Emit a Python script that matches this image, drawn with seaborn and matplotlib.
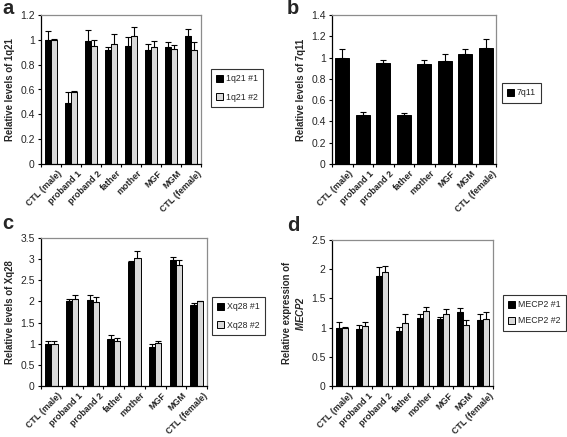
import numpy as np
import pandas as pd
import seaborn as sns
import matplotlib.pyplot as plt
import matplotlib.transforms as mtransforms
from matplotlib.ticker import MultipleLocator, FixedLocator

sns.set_style("white")
plt.rcParams['font.family'] = ['Liberation Sans', 'DejaVu Sans']
plt.rcParams['mathtext.fontset'] = 'custom'
plt.rcParams['mathtext.bfit'] = 'Liberation Sans:italic:bold'
plt.rcParams['mathtext.it'] = 'Liberation Sans:italic'

samples = ["CTL (male)", "proband 1", "proband 2", "father", "mother", "MGF", "MGM", "CTL (female)"]

# panel a - 1q21
q21_1 = [1.00, 0.49, 0.99, 0.92, 0.95, 0.92, 0.94, 1.03]
q21_1_err = [0.07, 0.09, 0.09, 0.02, 0.07, 0.05, 0.04, 0.06]
q21_2 = [1.00, 0.58, 0.95, 0.97, 1.03, 0.94, 0.93, 0.92]
q21_2_err = [0.005, 0.01, 0.05, 0.08, 0.07, 0.05, 0.03, 0.06]

# panel b - 7q11
q11 = [1.00, 0.46, 0.95, 0.46, 0.94, 0.97, 1.03, 1.09]
q11_err = [0.08, 0.025, 0.03, 0.015, 0.04, 0.06, 0.05, 0.08]

# panel c - Xq28
xq28_1 = [1.00, 2.00, 2.04, 1.12, 2.93, 0.93, 2.97, 1.92]
xq28_1_err = [0.06, 0.05, 0.12, 0.08, 0.02, 0.06, 0.09, 0.05]
xq28_2 = [1.00, 2.05, 1.99, 1.07, 3.02, 1.02, 2.87, 2.00]
xq28_2_err = [0.06, 0.11, 0.12, 0.07, 0.17, 0.05, 0.10, 0.01]

# panel d - MECP2
mecp2_1 = [1.00, 0.97, 1.89, 0.95, 1.16, 1.15, 1.27, 1.13]
mecp2_1_err = [0.09, 0.08, 0.15, 0.06, 0.07, 0.04, 0.06, 0.11]
mecp2_2 = [1.00, 1.02, 1.95, 1.08, 1.29, 1.23, 1.05, 1.15]
mecp2_2_err = [0.005, 0.07, 0.10, 0.15, 0.07, 0.08, 0.08, 0.12]

fig = plt.figure(figsize=(5.67, 4.37), dpi=100)
W, H = 567, 437


def make_ax(l, t, r, b):
    return fig.add_axes([l / W, 1 - b / H, (r - l) / W, (b - t) / H])


def panel(ax, series, names, errs, ymax, step, ylabel, letter, letter_pos, leg_pos, lspace):
    rows = []
    for vals, nm in zip(series, names):
        for s, v in zip(samples, vals):
            rows.append({"sample": s, "value": v, "probe": nm})
    df = pd.DataFrame(rows)
    pal = ["black", "#d9d9d9"][:len(names)]
    w = 0.6 if len(names) == 2 else 0.68
    sns.barplot(data=df, x="sample", y="value", hue="probe", palette=pal,
                errorbar=None, width=w, edgecolor="black", linewidth=0.7,
                saturation=1, ax=ax, legend=False)
    # error bars (upper only)
    for i, (nm, err) in enumerate(zip(names, errs)):
        cont = ax.containers[i]
        xs = [p.get_x() + p.get_width() / 2 for p in cont]
        ys = [p.get_height() for p in cont]
        ax.errorbar(xs, ys, yerr=[np.zeros(len(err)), err], fmt="none",
                    ecolor="black", elinewidth=0.8, capsize=2.3, capthick=0.8)
    ax.set_ylim(0, ymax)
    ax.set_xlim(-0.5, len(samples) - 0.5)
    ax.yaxis.set_major_locator(MultipleLocator(step))
    ax.set_yticklabels([("%g" % t) for t in ax.get_yticks()], fontsize=7.5)
    ax.set_xlabel("")
    ax.set_ylabel(ylabel, fontsize=6.9, fontweight="bold", labelpad=4)
    ax.set_xticks(range(len(samples)))
    ax.set_xticklabels(samples, rotation=45, ha="right", va="top",
                       rotation_mode="anchor", fontsize=6.4, fontweight="bold")
    ax.tick_params(axis="x", length=0, pad=3.5)
    shift = mtransforms.ScaledTranslation(6 / 100, 0, fig.dpi_scale_trans)
    for lab in ax.get_xticklabels():
        lab.set_transform(lab.get_transform() + shift)
    ax.xaxis.set_minor_locator(FixedLocator(np.arange(-0.5, len(samples), 1)))
    ax.tick_params(axis="x", which="minor", length=2.5, width=0.8, direction="out",
                   color="black", bottom=True)
    ax.tick_params(axis="y", length=2.5, width=0.8, direction="out", color="black",
                   left=True, pad=2)
    for side in ["left", "bottom"]:
        ax.spines[side].set_color("black")
        ax.spines[side].set_linewidth(0.9)
    for side in ["top", "right"]:
        ax.spines[side].set_color("#8c8c8c")
        ax.spines[side].set_linewidth(0.9)
    fig.text(letter_pos[0] / W, 1 - letter_pos[1] / H, letter, fontsize=14.5,
             fontweight="bold", ha="left", va="baseline")
    handles = [plt.Rectangle((0, 0), 1, 1, facecolor=c, edgecolor="black", linewidth=0.7)
               for c in pal]
    leg = ax.legend(handles, names, loc="upper left",
                    bbox_to_anchor=(leg_pos[0] / W, 1 - leg_pos[1] / H),
                    bbox_transform=fig.transFigure, frameon=True, fancybox=False,
                    fontsize=6.3, handlelength=0.75, handleheight=0.8, handletextpad=0.35,
                    borderpad=0.6, labelspacing=lspace, borderaxespad=0)
    leg.get_frame().set_edgecolor("black")
    leg.get_frame().set_linewidth(0.8)


ax_a = make_ax(41, 15, 201, 164)
panel(ax_a, [q21_1, q21_2], ["1q21 #1", "1q21 #2"], [q21_1_err, q21_2_err],
      1.2, 0.2, "Relative levels of 1q21", "a", (2, 14), (211, 69), 1.1)

ax_b = make_ax(332, 15, 496, 164)
panel(ax_b, [q11], ["7q11"], [q11_err],
      1.4, 0.2, "Relative levels of 7q11", "b", (287, 14), (502, 83), 1.0)

ax_c = make_ax(41, 238, 207, 386)
panel(ax_c, [xq28_1, xq28_2], ["Xq28 #1", "Xq28 #2"], [xq28_1_err, xq28_2_err],
      3.5, 0.5, "Relative levels of Xq28", "c", (2, 229), (212, 297), 1.1)

ax_d = make_ax(332, 240, 493, 386)
panel(ax_d, [mecp2_1, mecp2_2], ["MECP2 #1", "MECP2 #2"], [mecp2_1_err, mecp2_2_err],
      2.5, 0.5, "Relative expression of\n" + r"$\mathbfit{MECP2}$", "d", (287, 231),
      (503, 295), 0.8)

fig.savefig("out.png", dpi=100, facecolor="white")
